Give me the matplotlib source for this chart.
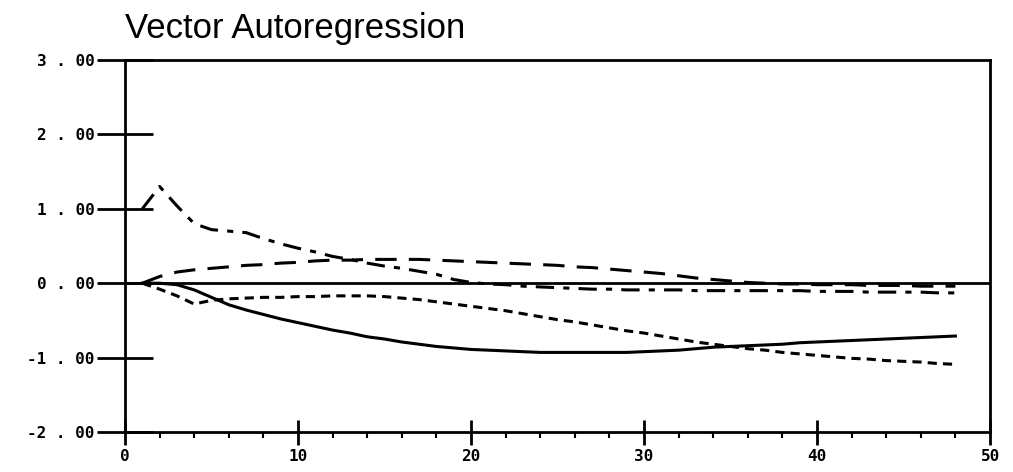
import matplotlib.pyplot as plt
import numpy as np

# Impulse responses, periods 1..48
periods = np.arange(1, 49)

resp_dashdot = [1.00, 1.30, 1.04, 0.80, 0.72, 0.70, 0.68, 0.60, 0.53, 0.47,
                0.42, 0.36, 0.32, 0.27, 0.23, 0.20, 0.16, 0.12, 0.05, 0.01,
                -0.01, -0.02, -0.04, -0.05, -0.06, -0.07, -0.08, -0.08, -0.09, -0.09,
                -0.09, -0.09, -0.10, -0.10, -0.10, -0.10, -0.10, -0.10, -0.10, -0.11,
                -0.11, -0.11, -0.12, -0.12, -0.12, -0.12, -0.13, -0.13]

resp_dashed = [0.00, 0.09, 0.15, 0.18, 0.20, 0.22, 0.24, 0.25, 0.27, 0.28,
               0.30, 0.31, 0.31, 0.32, 0.32, 0.32, 0.32, 0.31, 0.30, 0.29,
               0.28, 0.27, 0.26, 0.25, 0.24, 0.22, 0.21, 0.19, 0.17, 0.15,
               0.13, 0.10, 0.07, 0.05, 0.03, 0.01, 0.00, -0.01, -0.01, -0.02,
               -0.02, -0.02, -0.03, -0.03, -0.03, -0.04, -0.04, -0.04]

resp_dotted = [0.00, -0.08, -0.17, -0.28, -0.23, -0.21, -0.20, -0.19, -0.19, -0.18,
               -0.18, -0.17, -0.17, -0.17, -0.18, -0.20, -0.22, -0.25, -0.28, -0.31,
               -0.34, -0.37, -0.41, -0.45, -0.49, -0.52, -0.56, -0.60, -0.64, -0.67,
               -0.71, -0.75, -0.79, -0.82, -0.85, -0.88, -0.90, -0.93, -0.95, -0.97,
               -0.99, -1.01, -1.02, -1.04, -1.05, -1.06, -1.08, -1.09]

resp_solid = [0.00, 0.00, -0.02, -0.09, -0.19, -0.29, -0.36, -0.42, -0.48, -0.53,
              -0.58, -0.63, -0.67, -0.72, -0.75, -0.79, -0.82, -0.85, -0.87, -0.89,
              -0.90, -0.91, -0.92, -0.93, -0.93, -0.93, -0.93, -0.93, -0.93, -0.92,
              -0.91, -0.90, -0.88, -0.86, -0.85, -0.84, -0.83, -0.82, -0.80, -0.79,
              -0.78, -0.77, -0.76, -0.75, -0.74, -0.73, -0.72, -0.71]

y_ticks = [-2, -1, 0, 1, 2, 3]
y_labels = ['-2 . 00', '-1 . 00', '0 . 00', '1 . 00', '2 . 00', '3 . 00']
x_ticks = [0, 10, 20, 30, 40, 50]
x_labels = ['0', '10', '20', '30', '40', '50']

fig = plt.figure(figsize=(10.13, 4.72), dpi=100)
ax = fig.add_axes([0.1234, 0.0847, 0.8539, 0.7882])

# zero reference line
ax.axhline(0, color='black', lw=2)

ax.plot(periods, resp_dashdot, color='black', lw=2.2, dashes=(6, 3, 2, 3))
ax.plot(periods, resp_dashed, color='black', lw=2.2, dashes=(7, 4))
ax.plot(periods, resp_dotted, color='black', lw=2.2, dashes=(3, 2))
ax.plot(periods, resp_solid, color='black', lw=2.2)

ax.set_xlim(0, 50)
ax.set_ylim(-2, 3)

for s in ax.spines.values():
    s.set_linewidth(2)

tick_font = dict(family='DejaVu Sans Mono', weight='bold', size=11.5)
ax.set_yticks(y_ticks)
ax.set_yticklabels(y_labels, **tick_font)
ax.set_xticks(x_ticks)
ax.set_xticklabels(x_labels, **tick_font)
ax.set_xticks(np.arange(2, 50, 2), minor=True)

ax.tick_params(axis='y', direction='inout', length=40, width=2, pad=2)
ax.tick_params(axis='x', direction='inout', length=18, width=2, pad=3)
ax.tick_params(axis='x', which='minor', direction='out', length=4, width=1.5)

fig.text(0.1234, 0.94, 'Vector Autoregression', family='Liberation Sans',
         fontsize=25, va='center', ha='left')

fig.savefig('out.png', dpi=100)
